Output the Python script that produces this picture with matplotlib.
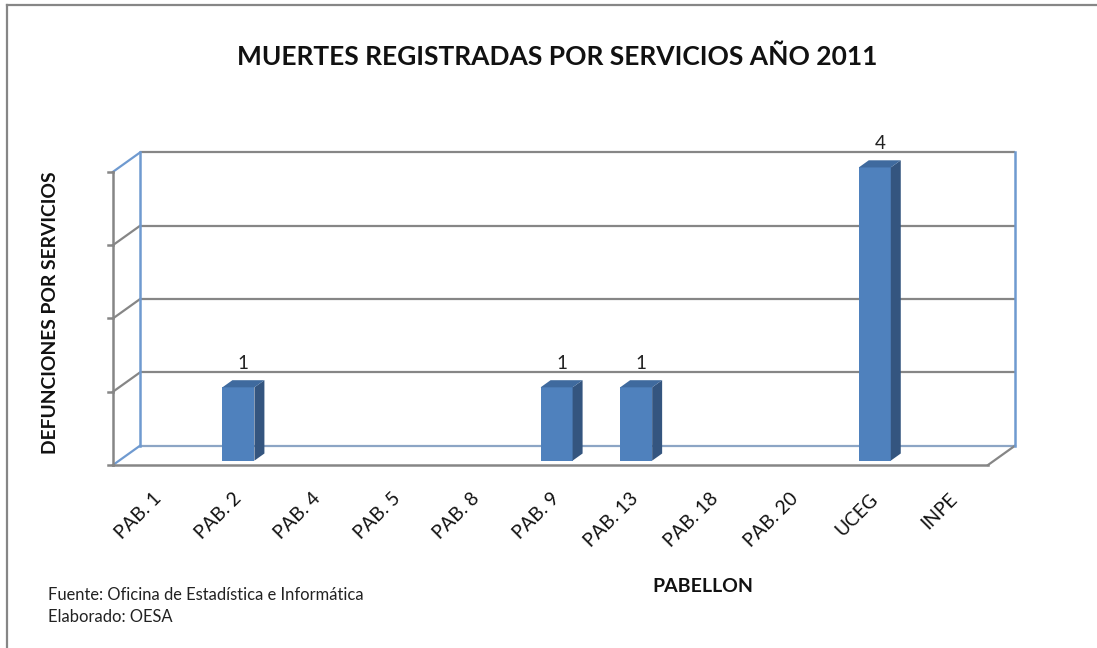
import matplotlib
matplotlib.use("Agg")
import matplotlib.pyplot as plt
from matplotlib.patches import Polygon

plt.rcParams['font.family'] = ['Lato', 'DejaVu Sans']

# ---- data ----
categories = ["PAB. 1", "PAB. 2", "PAB. 4", "PAB. 5", "PAB. 8", "PAB. 9",
              "PAB. 13", "PAB. 18", "PAB. 20", "UCEG", "INPE"]
deaths = [0, 1, 0, 0, 0, 1, 1, 0, 0, 4, 0]
y_ticks = [0, 1, 2, 3, 4]

title = "MUERTES REGISTRADAS POR SERVICIOS AÑO 2011"
ylabel = "DEFUNCIONES POR SERVICIOS"
xlabel = "PABELLON"
source_lines = ["Fuente: Oficina de Estadística e Informática", "Elaborado: OESA"]

# ---- figure geometry (pixels) ----
W, H = 1097, 648
fig = plt.figure(figsize=(W / 100, H / 100), dpi=100)
fig.patch.set_facecolor("white")

UX, UY = 79.545, 73.3          # px per category / per value unit
X0, Y0 = 113, 465              # front-plane origin in px
ax_l, ax_r, ax_t, ax_b = 95, 1035, 130, 480
ax = fig.add_axes([ax_l / W, (H - ax_b) / H, (ax_r - ax_l) / W, (ax_b - ax_t) / H])
ax.set_xlim((ax_l - X0) / UX, (ax_r - X0) / UX)
ax.set_ylim((Y0 - ax_b) / UY, (Y0 - ax_t) / UY)
ax.axis("off")

n = len(categories)
ymax = y_ticks[-1]
DX, DY = 27 / UX, 19.3 / UY    # depth of the 3D box in data units
grid_c = "#868686"
edge_blue = "#6F9AD0"

# back wall gridlines
for k in y_ticks:
    ax.plot([DX, n + DX], [k + DY, k + DY], color=grid_c if k > 0 else "#8CA5C5",
            lw=1.6, zorder=1, solid_capstyle="butt")
# back wall vertical edges
ax.plot([DX, DX], [DY, ymax + DY], color=edge_blue, lw=1.8, zorder=1.5)
ax.plot([n + DX, n + DX], [DY, ymax + DY], color=edge_blue, lw=1.8, zorder=1.5)
# left side wall diagonals
for k in y_ticks:
    c = edge_blue if k in (0, ymax) else grid_c
    ax.plot([0, DX], [k, k + DY], color=c, lw=1.6, zorder=1)
# floor right diagonal
ax.plot([n, n + DX], [0, DY], color=grid_c, lw=1.6, zorder=1)
# front vertical axis and ticks
ax.plot([0, 0], [0, ymax], color=grid_c, lw=1.8, zorder=1)
for k in y_ticks:
    ax.plot([-5 / UX, 0], [k, k], color=grid_c, lw=1.8, zorder=1)
# front floor line
ax.plot([0, n], [0, 0], color=grid_c, lw=1.8, zorder=4)

# ---- bars ----
f0, f1 = 0.226, 0.596          # depth fractions of bar front / back
bw = 32 / UX
sx, sy = f0 * DX, f0 * DY
ddx, ddy = (f1 - f0) * DX, (f1 - f0) * DY
front_c, side_c, top_c = "#4F81BD", "#34557F", "#3F6A9E"
centers = [i + 0.5 + sx for i in range(n)]
ax.bar(centers, deaths, width=bw, bottom=sy, color=front_c, zorder=3, linewidth=0)
for xc, v in zip(centers, deaths):
    if v <= 0:
        continue
    xl, xr = xc - bw / 2, xc + bw / 2
    top = v + sy
    ax.add_patch(Polygon([(xr, sy), (xr, top), (xr + ddx, top + ddy), (xr + ddx, sy + ddy)],
                         closed=True, facecolor=side_c, edgecolor="none", zorder=3))
    ax.add_patch(Polygon([(xl, top), (xr, top), (xr + ddx, top + ddy), (xl + ddx, top + ddy)],
                         closed=True, facecolor=top_c, edgecolor="none", zorder=3))
    ax.text(xc + ddx / 2, top + ddy + 8 / UY, str(v), ha="center", va="bottom",
            fontsize=13.5, color="#222222", zorder=5)

# ---- category labels ----
for i, lab in enumerate(categories):
    ax.text(i + 0.5 + 6 / UX, -31 / UY, lab, rotation=45, rotation_mode="anchor",
            ha="right", va="center", fontsize=13.8, color="#111111", clip_on=False)

# ---- texts ----
fig.text(557 / W, 1 - 57 / H, title, ha="center", va="center", fontsize=19,
         fontweight="bold", color="#111111")
fig.text(50.5 / W, 1 - 313 / H, ylabel, ha="center", va="center", rotation=90,
         fontsize=13.9, fontweight="bold", color="#111111")
fig.text(703 / W, 1 - 587 / H, xlabel, ha="center", va="center", fontsize=14,
         fontweight="bold", color="#111111")
for j, line in enumerate(source_lines):
    fig.text(48 / W, 1 - (595 + 22 * j) / H, line, ha="left", va="center",
             fontsize=11.9, color="#222222")

# outer border (top and left visible)
fig.add_artist(plt.Line2D([7 / W, 7 / W], [0, 1 - 5 / H], color=grid_c, lw=1.6,
                          transform=fig.transFigure))
fig.add_artist(plt.Line2D([7 / W, 1], [1 - 5 / H, 1 - 5 / H], color=grid_c, lw=1.6,
                          transform=fig.transFigure))

fig.savefig("out.png", dpi=100)
